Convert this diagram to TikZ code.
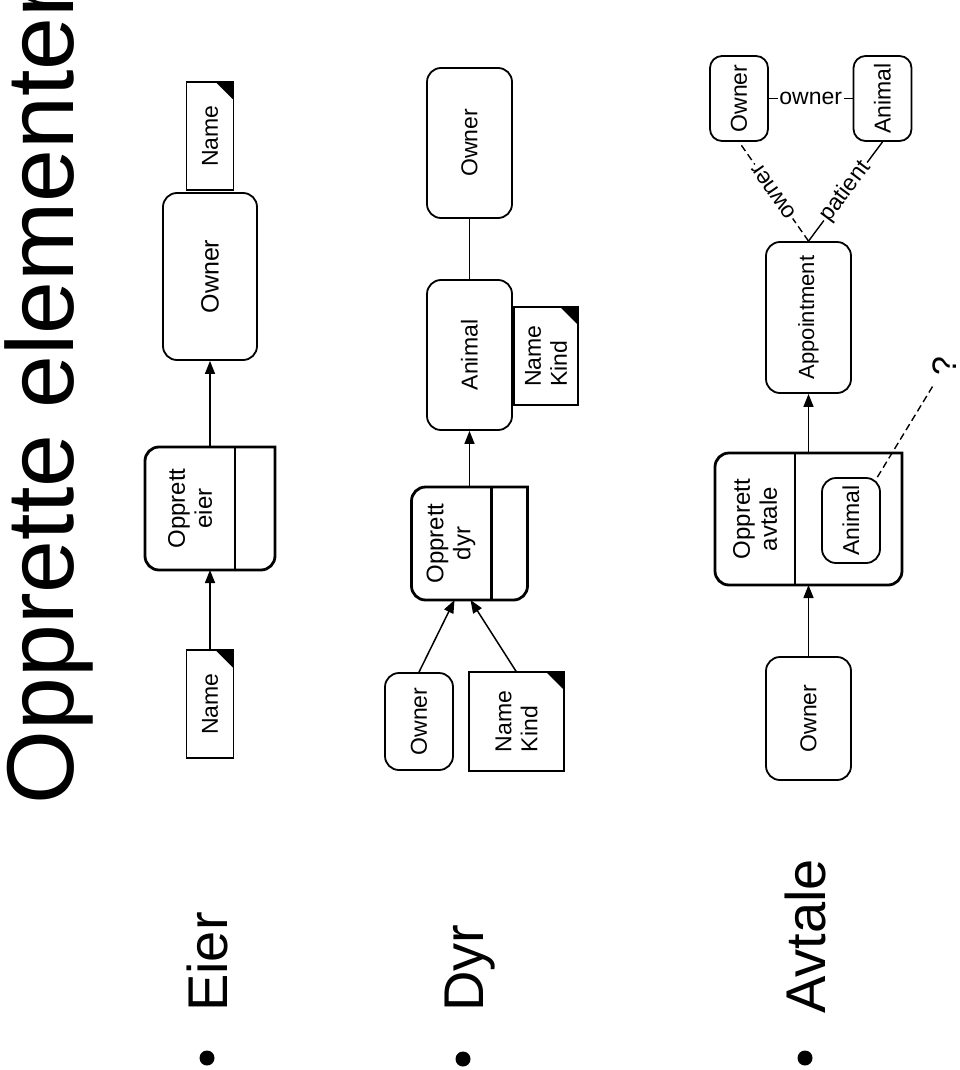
\documentclass[tikz,border=0pt]{standalone}
\usepackage{fontspec}
\setmainfont{Liberation Sans}
\usetikzlibrary{positioning,arrows.meta}
\newcommand\boxfont{\fontsize{23}{26}\selectfont}
\newcommand\formfont{\fontsize{24}{27}\selectfont}
\tikzset{
  sz/.style 2 args = {minimum height=#1pt, minimum width=#2pt},
  entity/.style    = {draw, line width=1.8pt, rounded corners=14pt, rotate=90,
                      align=center, inner sep=2pt, font=\boxfont},
  docu/.style      = {draw, line width=1.4pt, rotate=90, outer sep=0pt,
                      align=left, inner sep=2pt, font=\boxfont},
  formframe/.style = {rotate=90, inner sep=0pt, outer sep=0pt},
  formline/.style  = {line width=2.8pt, rounded corners=14pt, line cap=rect},
  formtxt/.style   = {rotate=90, align=center, font=\formfont},
  flow/.style      = {-{Triangle[length=13pt,width=10pt]}, line width=1.5pt},
  assoc/.style     = {line width=1.4pt},
  dashline/.style  = {assoc, dash pattern=on 7pt off 4pt},
  lbl/.style       = {fill=white, inner sep=1.5pt, font=\boxfont},
  titletxt/.style  = {rotate=90, anchor=base west, inner sep=0pt,
                      font=\fontsize{95}{100}\selectfont},
  bullettxt/.style = {rotate=90, anchor=base west, inner sep=0pt,
                      font=\fontsize{56}{60}\selectfont},
  dot/.style       = {circle, fill, inner sep=0pt, minimum size=15pt},
}

\begin{document}
\begin{tikzpicture}[x=1pt,y=-1pt]
\path[use as bounding box, clip] (0,0) rectangle (960,1070);

\node[titletxt] (title) at (73,804.5) {Opprette elementer};

% Eier
\node[dot] (dotE) at (207,1058) {};
\node[bullettxt] (eier) at (227,1012) {Eier};
\node[docu, sz={47}{108}] (nameIn) at (210,704) {Name};
\fill (nameIn.south east) -- ++(-18,0) -- ++(18,18) -- cycle;
\node[formframe, sz={130}{123}] (oppEier) at (210,508.5) {};
\draw[formline] (oppEier.south east) -- (oppEier.north east) -- (oppEier.north west)
  -- (oppEier.south west) -- (oppEier.south east);
\draw[formline] ([xshift=90pt]oppEier.north east) -- ([xshift=90pt]oppEier.north west);
\node[formtxt] (oppEierT) at (190,508.5) {Opprett\\eier};
\node[entity, sz={94}{167}, font=\fontsize{25}{28}\selectfont] (ownerE) at (210,276.5) {Owner};
\node[docu, sz={47}{108}] (nameE) at (210,136) {Name};
\fill (nameE.south east) -- ++(-18,0) -- ++(18,18) -- cycle;
\draw[flow] (nameIn) -- (oppEier);
\draw[flow] (oppEier) -- (ownerE);

% Dyr
\node[dot] (dotD) at (463,1059) {};
\node[bullettxt] (dyr) at (483,1012) {Dyr};
\node[entity, sz={68}{97}] (ownerDin) at (419,721.5) {Owner};
\node[docu, sz={95}{99}] (attrDin) at (516.5,721.5) {Name\\Kind};
\fill (attrDin.south east) -- ++(-18,0) -- ++(18,18) -- cycle;
\node[formframe, sz={116}{113}] (oppDyr) at (469.5,543.5) {};
\draw[formline] (oppDyr.south east) -- (oppDyr.north east) -- (oppDyr.north west)
  -- (oppDyr.south west) -- (oppDyr.south east);
\draw[formline] ([xshift=80pt]oppDyr.north east) -- ([xshift=80pt]oppDyr.north west);
\node[formtxt] (oppDyrT) at (451,543.5) {Opprett\\dyr};
\node[entity, sz={85}{150}] (animalD) at (469.5,355) {Animal};
\node[docu, sz={64}{98}] (attrD) at (546,356) {Name\\Kind};
\fill (attrD.south east) -- ++(-18,0) -- ++(18,18) -- cycle;
\node[entity, sz={85}{150}] (ownerD) at (469.5,143) {Owner};
\draw[flow] (ownerDin.east) -- ([xshift=-15pt]oppDyr.west);
\draw[flow] (attrDin.east) -- ([xshift=1pt]oppDyr.west);
\draw[flow] (oppDyr) -- (animalD);
\draw[assoc] (animalD) -- (ownerD);

% Avtale
\node[dot] (dotA) at (805,1058) {};
\node[bullettxt] (avtale) at (825,1014) {Avtale};
\node[entity, sz={85}{123}] (ownerA) at (808.5,718.5) {Owner};
\node[formframe, sz={187}{132}] (oppAvt) at (808.5,519) {};
\draw[formline] (oppAvt.south east) -- (oppAvt.north east) -- (oppAvt.north west)
  -- (oppAvt.south west) -- (oppAvt.south east);
\draw[formline] ([xshift=80pt]oppAvt.north east) -- ([xshift=80pt]oppAvt.north west);
\node[formtxt] (oppAvtT) at (755,519) {Opprett\\avtale};
\node[entity, sz={58}{85}] (innerA) at (851,520.5) {Animal};
\node[rotate=90, inner sep=1pt, font=\fontsize{34}{36}\selectfont] (q) at (945,366) {?};
\node[entity, sz={85}{151}, font=\fontsize{22}{25}\selectfont] (appt) at (808.5,317.5) {Appointment};
\node[entity, sz={58}{85}, rounded corners=12pt] (ownerS) at (739,98.5) {Owner};
\node[entity, sz={58}{85}, rounded corners=12pt] (animalS) at (882.5,98.5) {Animal};
\draw[flow] (ownerA) -- (oppAvt);
\draw[flow] (oppAvt) -- (appt);
\draw[dashline, shorten >=8pt] (innerA) -- (q);
\draw[assoc] (ownerS) -- node[lbl] {owner} (animalS);
\draw[dashline] (appt.east) -- node[lbl, sloped, allow upside down] {owner} (ownerS.west);
\draw[assoc] (appt.east) -- node[lbl, sloped] {patient} (animalS.west);

\end{tikzpicture}
\end{document}
